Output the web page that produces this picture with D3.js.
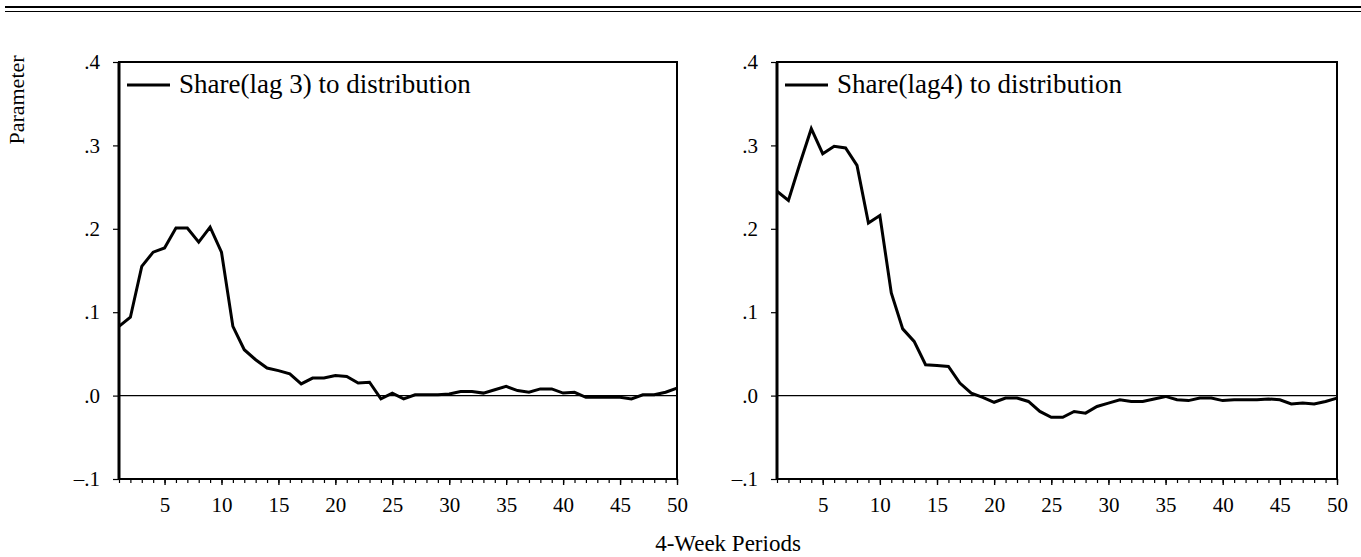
<!DOCTYPE html>
<html>
<head>
<meta charset="utf-8">
<script src="https://cdn.jsdelivr.net/npm/d3@7"></script>
<style>
  body { margin: 0; background: #fff; }
  svg { display: block; }
  text { font-family: "Liberation Serif", "DejaVu Serif", serif; fill: #000; }
</style>
</head>
<body>
<div id="container"></div>
<script>
window.onload = function() {
    'use strict';

    // 4-week periods on the x axis
    const periods = d3.range(1, 51);
    const xTickLabels = [5, 10, 15, 20, 25, 30, 35, 40, 45, 50];
    const yTicks = [-0.1, 0.0, 0.1, 0.2, 0.3, 0.4];

    const lag3Label = 'Share(lag 3) to distribution';
    const lag3Values = [
        0.083, 0.094, 0.155, 0.172, 0.177, 0.201, 0.201, 0.184, 0.202, 0.172,
        0.083, 0.055, 0.043, 0.033, 0.030, 0.026, 0.014, 0.021, 0.021, 0.024,
        0.023, 0.015, 0.016, -0.004, 0.003, -0.004, 0.001, 0.001, 0.001, 0.002,
        0.005, 0.005, 0.003, 0.007, 0.011, 0.006, 0.004, 0.008, 0.008, 0.003,
        0.004, -0.002, -0.002, -0.002, -0.002, -0.004, 0.001, 0.001, 0.004, 0.009
    ];

    const lag4Label = 'Share(lag4) to distribution';
    const lag4Values = [
        0.245, 0.234, 0.278, 0.320, 0.290, 0.299, 0.297, 0.276, 0.207, 0.216,
        0.123, 0.080, 0.065, 0.037, 0.036, 0.035, 0.015, 0.003, -0.002, -0.008,
        -0.003, -0.003, -0.007, -0.019, -0.026, -0.026, -0.019, -0.021, -0.013, -0.009,
        -0.005, -0.007, -0.007, -0.004, -0.001, -0.005, -0.006, -0.003, -0.003, -0.006,
        -0.005, -0.005, -0.005, -0.004, -0.005, -0.010, -0.009, -0.010, -0.007, -0.003
    ];

    const canvas = {
        width: 1361,
        height: 557
    };

    const svg = d3.select('#container')
        .append('svg')
        .attr('width', canvas.width)
        .attr('height', canvas.height);

    // double rule at the top of the page
    svg.append('line')
        .attr('x1', 5).attr('x2', canvas.width)
        .attr('y1', 7).attr('y2', 7)
        .attr('stroke', '#000').attr('stroke-width', 2);
    svg.append('line')
        .attr('x1', 5).attr('x2', canvas.width)
        .attr('y1', 11.5).attr('y2', 11.5)
        .attr('stroke', '#000').attr('stroke-width', 1.2);

    const top = 62, bottom = 479;

    function fmtY(d) {
        if (Math.abs(d) < 1e-9) return '.0';
        return (d < 0 ? '\u2013' : '') + '.' + Math.round(Math.abs(d) * 10);
    }

    function drawPanel(left, right, values, label) {
        const x = d3.scaleLinear().domain([1, 50]).range([left, right]);
        const y = d3.scaleLinear().domain([-0.1, 0.4]).range([bottom, top]);
        const g = svg.append('g');

        // zero line
        g.append('line')
            .attr('x1', left).attr('x2', right)
            .attr('y1', y(0)).attr('y2', y(0))
            .attr('stroke', '#000').attr('stroke-width', 1.2);

        // x axis: minor ticks every period, longer at labelled ones
        const xAxis = d3.axisBottom(x)
            .tickValues(periods)
            .tickSize(4)
            .tickFormat('');
        g.append('g')
            .attr('transform', `translate(0,${bottom})`)
            .call(xAxis)
            .call(a => a.select('.domain').remove())
            .call(a => a.selectAll('line').attr('stroke-width', 1.2));

        g.append('g')
            .attr('transform', `translate(0,${bottom})`)
            .call(d3.axisBottom(x).tickValues(xTickLabels).tickSize(6).tickPadding(12))
            .call(a => a.select('.domain').remove())
            .call(a => a.selectAll('line').attr('stroke-width', 1.4))
            .call(a => a.selectAll('text')
                .style('font-family', '"Liberation Serif", serif')
                .style('font-size', '21px')
                .attr('fill', '#000'));

        // y axis
        g.append('g')
            .attr('transform', `translate(${left},0)`)
            .call(d3.axisLeft(y).tickValues(yTicks).tickSize(6).tickPadding(13).tickFormat(fmtY))
            .call(a => a.select('.domain').remove())
            .call(a => a.selectAll('line').attr('stroke-width', 1.2))
            .call(a => a.selectAll('text')
                .style('font-family', '"Liberation Serif", serif')
                .style('font-size', '21px')
                .attr('fill', '#000'));

        // frame
        g.append('rect')
            .attr('x', left).attr('y', top)
            .attr('width', right - left).attr('height', bottom - top)
            .attr('fill', 'none')
            .attr('stroke', '#000')
            .attr('stroke-width', 2);
        g.append('line')
            .attr('x1', left).attr('x2', left)
            .attr('y1', top).attr('y2', bottom)
            .attr('stroke', '#000').attr('stroke-width', 3);

        // series
        const line = d3.line()
            .x((d, i) => x(periods[i]))
            .y(d => y(d));
        g.append('path')
            .datum(values)
            .attr('d', line)
            .attr('fill', 'none')
            .attr('stroke', '#000')
            .attr('stroke-width', 3)
            .attr('stroke-linejoin', 'miter');

        // legend
        g.append('line')
            .attr('x1', left + 8).attr('x2', left + 51)
            .attr('y1', 85).attr('y2', 85)
            .attr('stroke', '#000').attr('stroke-width', 3);
        g.append('text')
            .attr('x', left + 60)
            .attr('y', 93)
            .style('font-size', '27px')
            .text(label);
    }

    drawPanel(119, 677, lag3Values, lag3Label);
    drawPanel(777, 1337, lag4Values, lag4Label);

    svg.append('text')
        .attr('transform', 'translate(24,100) rotate(-90)')
        .attr('text-anchor', 'middle')
        .style('font-size', '22px')
        .text('Parameter');

    svg.append('text')
        .attr('x', 728)
        .attr('y', 551)
        .attr('text-anchor', 'middle')
        .style('font-size', '23px')
        .text('4-Week Periods');
};
</script>
</body>
</html>
